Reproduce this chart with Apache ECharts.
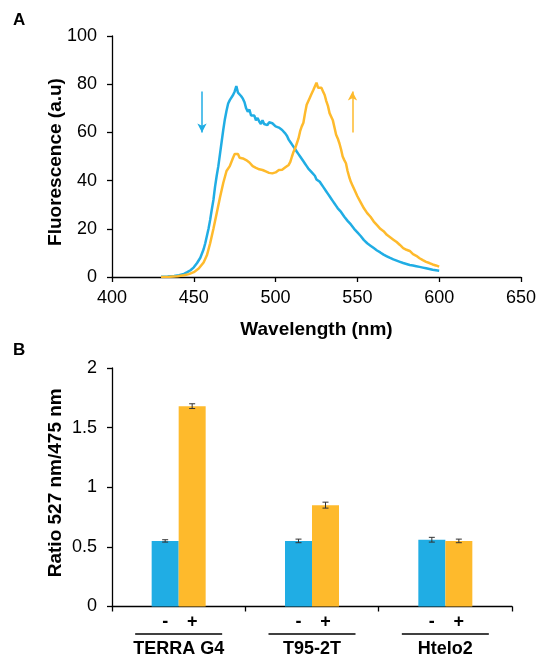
<!DOCTYPE html>
<html>
<head>
<meta charset="utf-8">
<script src="https://cdn.jsdelivr.net/npm/echarts@6/dist/echarts.min.js"></script>
<style>
html,body{margin:0;padding:0;background:#fff;}
#chart{width:539px;height:658px;}
</style>
</head>
<body>
<div id="chart"></div>
<script>
// ---------- Panel A data ----------
const blueWl = [430,434,438,441,444,446,448,450,452,454,456,457,458,459,460,461,462,463,464,465,466,467,468,469,470,471,472,473,474,475,476,477,478,479,480,481,482,483,484,485,486,487,488,489,490,491,492,493,494,495,496,497,498,499,500,501,502,503,504,505,506,507,508,509,510,511,512,513,514,515,516,517,518,519,520,521,522,523,524,525,526,527,528,529,530,531,532,533,534,535,536,537,538,539,540,542,544,546,548,550,552,554,556,558,560,562,564,566,568,570,572,574,576,578,580,582,584,586,588,590,592,594,596,598,600];
const blueVal = [0.1,0.2,0.4,0.7,1.3,2.0,2.8,4.0,5.8,8.0,11.5,14,17,20,23.7,28,32,37.5,42,46,51,56,61,65.5,69,72,73.4,74,75.5,77,79.2,76.5,77,75,74,72.5,70,68.6,69.5,67,66.5,67,65,66,64.5,63.5,65,63.5,64,63,64.2,63.5,63.8,63,62.5,63,62,61.5,61,60.5,59.5,58.5,57,56,55.5,54,53,52,51,50,49.5,48,47,46,45,44.5,43.5,43,42,40.5,40,39.5,38.5,37.5,37,35.5,34.5,33.5,32.5,31.5,30.5,29.5,28.5,28,27,25,23.3,21.8,20,18.5,17,15.3,14,13,12,11,10.2,9.3,8.6,7.9,7.3,6.8,6.3,5.8,5.4,5.0,4.8,4.5,4.2,3.9,3.6,3.3,3.0,2.8,2.6];

const orangeWl = [430,435,440,444,447,450,453,456,458,460,462,464,466,468,470,472,474,475,476,477,478,479,480,481,482,483,484,485,486,487,488,489,490,491,492,493,494,495,496,497,498,499,500,501,502,503,504,505,506,507,508,509,510,511,512,513,514,515,516,517,518,519,520,521,522,523,524,525,526,527,528,529,530,531,532,533,534,535,536,537,538,539,540,541,542,543,544,545,546,547,548,550,552,554,556,558,560,562,564,566,568,570,572,574,576,578,580,582,584,586,588,590,592,594,596,598,600];
const orangeVal = [0,0.1,0.3,0.7,1.2,2,3.5,6,9,14,20,26.5,33,39,44,46,49.5,51,50.5,51,49.5,50,49.2,49.5,48.5,48.8,47.5,47,46,45.5,45.3,46,44.7,45.2,44.4,44.8,43.8,44.2,43.2,43.8,43,43.5,43.4,43.8,44.4,43.8,44.5,44.2,45.5,45.5,46.5,47.8,50,52,53.5,55.5,57.5,60.5,62.5,64,68,71.5,72,74.5,76,77.5,78,80.6,78.5,79.3,78.5,77,75.5,73,71,68,66.5,65,62,59,57.5,55.5,53,50,48.5,47.2,44,41.5,39.5,38,36.5,33.5,31,28.5,26.5,25,23,21.5,20,19,17.5,16.5,15.5,14.5,13.3,12,11.3,10.8,9.5,8.8,7.8,7,6.3,5.8,5.2,4.8,4.3];

// annotation arrows (data units): [wavelength, from value, to value]
const blueArrow = [455, 77, 60];
const orangeArrow = [547, 60, 77];

const xTicksA = {min: 400, max: 650, interval: 50};
const yTicksA = {min: 0, max: 100, interval: 20};

// ---------- Panel B data ----------
const groups = ['TERRA G4', 'T95-2T', 'Htelo2'];
const signs = ['-', '+'];
const ratioMinus = [0.55, 0.55, 0.56];
const ratioPlus = [1.68, 0.85, 0.55];
const errMinus = [0.01, 0.015, 0.02];
const errPlus = [0.02, 0.025, 0.015];
const yTicksB = {min: 0, max: 2, interval: 0.5};

// ---------- styling ----------
const BLUE = '#20ADE4';
const ORANGE = '#FEBA2C';
const FONT = 'Liberation Sans';
const BAR_W = 27;

const pairs = (xs, ys) => xs.map((x, i) => [x, ys[i]]);

function errSeries(vals, errs, side) {
  return {
    type: 'custom',
    xAxisIndex: 1, yAxisIndex: 1,
    z: 10,
    silent: true,
    data: vals.map((v, i) => [i, v, v + errs[i], v - errs[i]]),
    renderItem: function (params, api) {
      const i = api.value(0);
      const hi = api.coord([i, api.value(2)]);
      const lo = api.coord([i, api.value(3)]);
      const x = hi[0] + side * BAR_W / 2;
      const cap = 3;
      const st = {stroke: '#333', lineWidth: 1};
      return {
        type: 'group',
        children: [
          {type: 'line', shape: {x1: x, y1: hi[1], x2: x, y2: lo[1]}, style: st},
          {type: 'line', shape: {x1: x - cap, y1: hi[1], x2: x + cap, y2: hi[1]}, style: st},
          {type: 'line', shape: {x1: x - cap, y1: lo[1], x2: x + cap, y2: lo[1]}, style: st}
        ]
      };
    }
  };
}

const axisLineStyle = {color: '#000', width: 1.3};
const tickLabel = {color: '#000', fontSize: 18, fontFamily: FONT};
const nameStyle = {color: '#000', fontSize: 19, fontWeight: 'bold', fontFamily: FONT};

const chart = echarts.init(document.getElementById('chart'), null, {renderer: 'canvas'});

const option = {
  animation: false,
  backgroundColor: '#fff',
  title: [
    {text: 'A', left: 13, top: 12, padding: 0, textStyle: {fontSize: 17, fontWeight: 'bold', color: '#000', fontFamily: FONT}},
    {text: 'B', left: 13, top: 342, padding: 0, textStyle: {fontSize: 17, fontWeight: 'bold', color: '#000', fontFamily: FONT}}
  ],
  grid: [
    {left: 112, top: 36, width: 409, height: 241},
    {left: 112, top: 368, width: 400, height: 239}
  ],
  xAxis: [
    {
      type: 'value', gridIndex: 0,
      min: xTicksA.min, max: xTicksA.max, interval: xTicksA.interval,
      name: 'Wavelength (nm)', nameLocation: 'middle', nameGap: 43, nameTextStyle: nameStyle,
      nameMoveOverlap: false,
      axisLine: {show: true, lineStyle: axisLineStyle},
      axisTick: {show: true, length: 5, lineStyle: axisLineStyle},
      axisLabel: Object.assign({margin: 12}, tickLabel),
      splitLine: {show: false}
    },
    {
      type: 'category', gridIndex: 1, data: groups,
      axisLine: {show: true, lineStyle: axisLineStyle},
      axisTick: {show: true, length: 5, lineStyle: axisLineStyle},
      axisLabel: {
        margin: 8, interval: 0,
        formatter: function (v) {
          return '{s|' + signs[0] + '}{s|' + signs[1] + '}\n{ln| }\n{nm|' + v + '}';
        },
        rich: {
          s: {fontSize: 18, fontWeight: 'bold', width: 27, align: 'center', lineHeight: 16, color: '#000', fontFamily: FONT},
          ln: {width: 87, height: 1.5, backgroundColor: '#000', lineHeight: 7, fontSize: 1, align: 'center'},
          nm: {fontSize: 18, fontWeight: 'bold', lineHeight: 23, color: '#000', fontFamily: FONT, align: 'center'}
        }
      },
      splitLine: {show: false}
    }
  ],
  yAxis: [
    {
      type: 'value', gridIndex: 0,
      min: yTicksA.min, max: yTicksA.max, interval: yTicksA.interval,
      name: 'Fluorescence (a.u)', nameLocation: 'middle', nameGap: 47,
      nameMoveOverlap: false,
      nameTextStyle: Object.assign({padding: [0, 11, 0, 0]}, nameStyle),
      axisLine: {show: true, lineStyle: axisLineStyle},
      axisTick: {show: true, length: 5, lineStyle: axisLineStyle},
      axisLabel: Object.assign({margin: 15}, tickLabel),
      splitLine: {show: false}
    },
    {
      type: 'value', gridIndex: 1,
      min: yTicksB.min, max: yTicksB.max, interval: yTicksB.interval,
      name: 'Ratio 527 nm/475 nm', nameLocation: 'middle', nameGap: 47,
      nameMoveOverlap: false,
      nameTextStyle: Object.assign({padding: [0, 0, 0, 9]}, nameStyle),
      axisLine: {show: true, lineStyle: axisLineStyle},
      axisTick: {show: true, length: 5, lineStyle: axisLineStyle},
      axisLabel: Object.assign({margin: 15}, tickLabel),
      splitLine: {show: false}
    }
  ],
  series: [
    {
      type: 'line', xAxisIndex: 0, yAxisIndex: 0,
      data: pairs(blueWl, blueVal), showSymbol: false, symbol: 'none',
      lineStyle: {color: BLUE, width: 2.5}, itemStyle: {color: BLUE},
      markLine: {
        silent: true, symbol: ['none', 'arrow'], symbolSize: [7, 9],
        label: {show: false},
        lineStyle: {color: BLUE, width: 1.5, type: 'solid'},
        data: [[{coord: [blueArrow[0], blueArrow[1]]}, {coord: [blueArrow[0], blueArrow[2]]}]]
      }
    },
    {
      type: 'line', xAxisIndex: 0, yAxisIndex: 0,
      data: pairs(orangeWl, orangeVal), showSymbol: false, symbol: 'none',
      lineStyle: {color: ORANGE, width: 2.5}, itemStyle: {color: ORANGE},
      markLine: {
        silent: true, symbol: ['none', 'arrow'], symbolSize: [7, 9],
        label: {show: false},
        lineStyle: {color: ORANGE, width: 1.5, type: 'solid'},
        data: [[{coord: [orangeArrow[0], orangeArrow[1]]}, {coord: [orangeArrow[0], orangeArrow[2]]}]]
      }
    },
    {
      type: 'bar', xAxisIndex: 1, yAxisIndex: 1,
      data: ratioMinus, barWidth: BAR_W, barGap: '0%',
      itemStyle: {color: BLUE}
    },
    {
      type: 'bar', xAxisIndex: 1, yAxisIndex: 1,
      data: ratioPlus, barWidth: BAR_W, barGap: '0%',
      itemStyle: {color: ORANGE}
    },
    errSeries(ratioMinus, errMinus, -1),
    errSeries(ratioPlus, errPlus, 1)
  ]
};
chart.setOption(option);
</script>
</body>
</html>
